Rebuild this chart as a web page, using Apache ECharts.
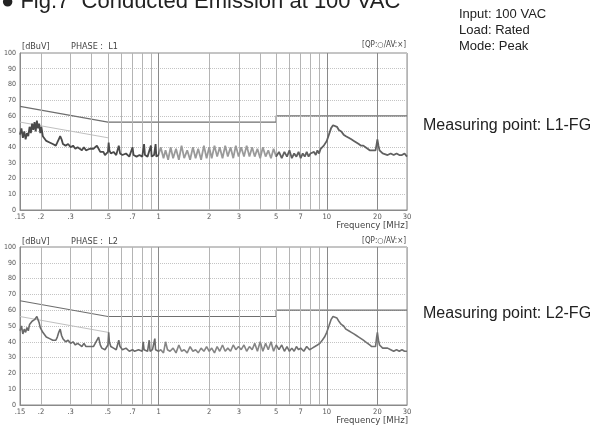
<!DOCTYPE html>
<html><head><meta charset="utf-8">
<script src="https://cdn.jsdelivr.net/npm/echarts@6/dist/echarts.min.js"></script>
<style>html,body{margin:0;padding:0;background:#fff}#c{width:592px;height:441px}</style>
</head><body><div id="c"></div>
<script>
// ---- data ----
const gridFreqs = [0.2,0.3,0.4,0.5,0.6,0.7,0.8,0.9,1,2,3,4,5,6,7,8,9,10,20,30];
const tickFreqs = [0.15,0.2,0.3,0.5,0.7,1,2,3,5,7,10,20,30];
const tickLabels = ['.15','.2','.3','.5','.7','1','2','3','5','7','10','20','30'];
const qpFreq = [0.15,0.5,5,5,30];
const qpLevel = [66,56,56,60,60];
const avFreq = [0.15,0.5];
const avLevel = [56,46];

const l1Freq = [0.150,0.153,0.156,0.159,0.162,0.165,0.168,0.171,0.174,0.177,0.180,0.183,0.186,0.189,0.192,0.195,0.198,0.201,0.205,0.210,0.215,0.220,0.225,0.230,0.235,0.240,0.245,0.250,0.255,0.260,0.265,0.270,0.280,0.290,0.300,0.310,0.320,0.330,0.340,0.350,0.360,0.370,0.380,0.390,0.400,0.410,0.420,0.430,0.440,0.450,0.460,0.470,0.480,0.490,0.500,0.505,0.510,0.520,0.540,0.560,0.580,0.590,0.610,0.640,0.670,0.700,0.710,0.740,0.770,0.800,0.820,0.830,0.860,0.880,0.900,0.910,0.940,0.960,0.970,1.000,
1.03,1.07,1.10,1.14,1.18,1.22,1.27,1.32,1.37,1.42,1.48,1.54,1.60,1.66,1.72,1.79,1.86,1.93,2.00,2.07,2.15,2.23,2.31,2.40,2.49,2.58,2.68,2.78,2.88,2.99,3.10,3.22,3.34,3.47,3.60,3.73,3.87,4.02,4.17,4.33,4.49,4.66,4.83,5.00,
5.2,5.4,5.6,5.8,6.0,6.2,6.4,6.6,6.8,7.0,7.2,7.4,7.6,7.8,8.0,8.2,8.4,8.6,8.8,9.0,9.2,9.4,9.6,9.8,10.0,10.3,10.6,10.9,11.2,11.5,11.8,12.2,12.6,13.0,13.5,14.0,14.5,15.0,15.5,16.0,16.5,17.0,17.5,18.0,18.5,19.0,19.5,19.8,20.0,20.3,20.6,21.0,21.5,22.0,23.0,24.0,25.0,26.0,27.0,28.0,29.0,30.0];
const l1Level = [48,52,46,50,45,49,47,53,49,55,51,56,50,57,52,55,49,53,47,46,44,45,43,44,42,43,41,43,45,47,45,42,41,42,40,41,39,40,39,38,40,38,37,39,38,39,38,41,39,37,36,37,35,36,37,43,38,36,37,35,41,36,35,36,34,40,35,34,35,34,42,35,34,35,41,34,35,42,34,35,
40,33,38,32,40,33,39,32,41,33,38,32,40,33,39,32,41,33,40,33,41,34,40,33,41,34,40,33,41,34,40,34,41,34,40,34,39,33,40,34,38,33,39,34,
37,33,37,34,38,33,36,34,37,33,36,34,37,34,36,35,37,35,38,36,39,38,41,42,44,48,52,54,55,53,51,50,48,47,46,45,44,43,42,41,41,40,39,38,38,37,38,42,45,41,38,37,36,37,35,36,35,36,35,35,36,34];

const l2Freq = [0.150,0.153,0.156,0.159,0.162,0.165,0.168,0.171,0.174,0.177,0.180,0.183,0.186,0.189,0.192,0.195,0.198,0.201,0.205,0.210,0.215,0.220,0.225,0.230,0.235,0.240,0.245,0.250,0.255,0.260,0.265,0.270,0.280,0.290,0.300,0.310,0.320,0.330,0.340,0.350,0.360,0.370,0.380,0.390,0.400,0.410,0.420,0.430,0.440,0.450,0.460,0.470,0.480,0.490,0.500,0.505,0.510,0.520,0.540,0.560,0.580,0.590,0.610,0.640,0.670,0.700,0.720,0.760,0.800,0.810,0.820,0.860,0.880,0.890,0.920,0.950,0.960,1.000,
1.03,1.07,1.10,1.13,1.17,1.22,1.27,1.32,1.37,1.42,1.48,1.54,1.60,1.66,1.72,1.79,1.86,1.93,2.00,2.07,2.15,2.23,2.31,2.40,2.49,2.58,2.68,2.78,2.88,2.99,3.10,3.22,3.34,3.47,3.60,3.73,3.87,4.02,4.17,4.33,4.49,4.66,4.83,5.00,
5.2,5.4,5.6,5.8,6.0,6.2,6.4,6.6,6.8,7.0,7.3,7.6,7.9,8.2,8.5,8.8,9.1,9.4,9.7,10.0,10.3,10.6,10.9,11.2,11.5,11.8,12.2,12.6,13.0,13.5,14.0,14.5,15.0,15.5,16.0,16.5,17.0,17.5,18.0,18.5,19.0,19.5,19.8,20.0,20.3,20.6,21.0,21.5,22.0,23.0,24.0,25.0,26.0,27.0,28.0,29.0,30.0];
const l2Level = [47,50,45,48,46,49,47,51,50,53,52,54,53,56,54,52,49,50,46,45,43,44,42,43,41,42,41,43,46,48,44,42,40,41,39,40,38,39,38,37,39,37,38,37,38,37,39,40,43,38,36,37,35,36,38,46,40,37,36,35,41,37,35,36,34,35,34,35,34,40,35,34,41,34,35,42,35,34,
35,33,40,35,34,36,33,38,34,35,33,37,34,35,33,36,34,37,34,36,33,37,34,38,34,36,34,38,35,37,35,38,34,37,35,39,34,40,34,39,35,40,34,38,
35,38,34,37,34,36,34,37,35,36,34,37,35,36,37,38,39,41,43,46,50,54,56,57,55,53,51,50,48,47,46,45,44,43,42,41,40,39,38,37,36,37,43,46,41,38,37,36,35,36,35,34,35,34,35,34,34];

// ---- build ----
const zip = (a, b) => a.map((v, i) => [v, b[i]]);
const FONT = "'Liberation Sans', Arial, sans-serif";
const SMALL = "'DejaVu Sans Condensed','Liberation Sans Narrow','DejaVu Sans',sans-serif";

function vlines() {
  const data = gridFreqs.map(f => {
    const idx = tickFreqs.indexOf(f);
    const dark = (f === 1 || f === 10 || f === 20);
    return {
      xAxis: f,
      lineStyle: {color: dark ? '#8a8a8a' : '#b4b4b4', width: 1, type: 'solid'},
      label: idx >= 0 ? {show: true, formatter: tickLabels[idx]} : {show: false}
    };
  });
  data.push({xAxis: 0.15, lineStyle: {color: 'rgba(0,0,0,0)', width: 1}, label: {show: true, formatter: '.15', color: '#555'}});
  return {
    symbol: ['none', 'none'], silent: true, animation: false,
    label: {position: 'start', distance: 3, fontSize: 7.5, color: '#555', fontFamily: SMALL},
    data: data
  };
}

const grids = [
  {left: 20, top: 53, width: 387, height: 157, show: true, borderColor: '#8a8a8a', borderWidth: 1},
  {left: 20, top: 247, width: 387, height: 158, show: true, borderColor: '#8a8a8a', borderWidth: 1}
];
const xAxes = [0, 1].map(i => ({
  type: 'log', logBase: 10, gridIndex: i, min: 0.15, max: 30,
  axisLabel: {show: false}, axisTick: {show: false}, splitLine: {show: false}, minorSplitLine: {show: false},
  axisLine: {lineStyle: {color: '#8a8a8a'}}
}));
const yAxes = [0, 1].map(i => ({
  type: 'value', gridIndex: i, min: 0, max: 100, interval: 10,
  axisLabel: {fontSize: 7, color: '#555', margin: 4, fontFamily: SMALL},
  axisTick: {show: false},
  axisLine: {show: true, lineStyle: {color: '#8a8a8a'}},
  splitLine: {lineStyle: {color: '#c4c4c4', width: 1, type: 'dotted'}}
}));

function panel(i, freq, level, w) {
  return [
    {type: 'line', xAxisIndex: i, yAxisIndex: i, data: zip(freq, level), symbol: 'none',
     lineStyle: {width: w}, z: 5, animation: false},
    {type: 'line', xAxisIndex: i, yAxisIndex: i, data: zip(qpFreq, qpLevel), symbol: 'none',
     lineStyle: {width: 1.2, color: '#6e6e6e'}, itemStyle: {color: '#6e6e6e'}, z: 4, animation: false, markLine: vlines()},
    {type: 'line', xAxisIndex: i, yAxisIndex: i, data: zip(avFreq, avLevel), symbol: 'none',
     lineStyle: {width: 1, color: '#c0c0c0'}, itemStyle: {color: '#c0c0c0'}, z: 3, animation: false}
  ];
}

function txt(x, y, text, size, opt) {
  return Object.assign({type: 'text', x: x, y: y, silent: true,
    style: Object.assign({text: text, fontSize: size, fontFamily: FONT, fill: '#222', align: 'left', verticalAlign: 'middle'}, opt || {})});
}
function stxt(x, y, text, align, size) {
  return {type: 'text', x: x, y: y, silent: true,
    style: {text: text, fontSize: size || 9, fontFamily: SMALL, fill: '#444', align: align || 'left', verticalAlign: 'middle'}};
}

const chart = echarts.init(document.getElementById('c'), null, {renderer: 'canvas'});
chart.setOption({
  animation: false,
  backgroundColor: '#fff',
  grid: grids, xAxis: xAxes, yAxis: yAxes,
  visualMap: [
    {type: 'piecewise', show: false, seriesIndex: 0, dimension: 0,
     pieces: [{lt: 1, color: '#4a4a4a'}, {gte: 1, lt: 5, color: '#9a9a9a'}, {gte: 5, color: '#606060'}]},
    {type: 'piecewise', show: false, seriesIndex: 3, dimension: 0,
     pieces: [{lt: 1, color: '#6a6a6a'}, {gte: 1, lt: 5, color: '#858585'}, {gte: 5, color: '#707070'}]}
  ],
  series: panel(0, l1Freq, l1Level, 1.8).concat(panel(1, l2Freq, l2Level, 1.6)),
  graphic: [
    txt(1, 2, '● Fig.7  Conducted Emission at 100 VAC', 22),
    txt(459, 14, 'Input: 100 VAC', 13),
    txt(459, 30, 'Load: Rated', 13),
    txt(459, 46, 'Mode: Peak', 13),
    txt(423, 126, 'Measuring point: L1-FG', 16),
    txt(423, 314, 'Measuring point: L2-FG', 16),
    stxt(22, 47, '[dBuV]'), stxt(71, 47, 'PHASE :  L1'), stxt(406, 45, '[QP:○/AV:×]', 'right', 8),
    stxt(408, 226, 'Frequency [MHz]', 'right', 9.5),
    stxt(22, 242, '[dBuV]'), stxt(71, 242, 'PHASE :  L2'), stxt(406, 241, '[QP:○/AV:×]', 'right', 8),
    stxt(408, 421, 'Frequency [MHz]', 'right', 9.5)
  ]
});
</script></body></html>
